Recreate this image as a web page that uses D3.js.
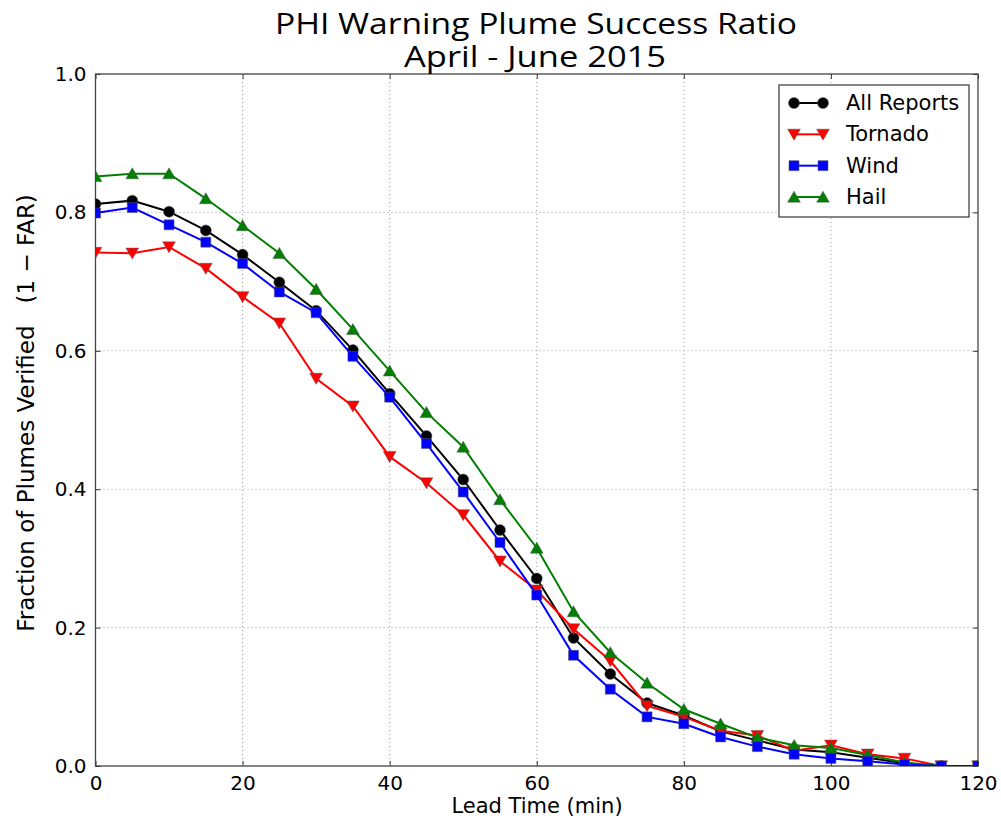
<!DOCTYPE html>
<html>
<head>
<meta charset="utf-8">
<script src="https://d3js.org/d3.v7.min.js"></script>
<style>
  body { margin: 0; background: #fff; }
  text { font-family: "DejaVu Sans", sans-serif; fill: #000; }
</style>
</head>
<body>
<div id="viz"></div>
<script>
// lead time (min)
var leadTime = [0, 5, 10, 15, 20, 25, 30, 35, 40, 45, 50, 55, 60, 65, 70, 75, 80, 85, 90, 95, 100, 105, 110, 115, 120];

var allReports = [0.812, 0.817, 0.801, 0.774, 0.739, 0.699, 0.658, 0.601, 0.538, 0.477, 0.414, 0.341, 0.271, 0.185, 0.133, 0.091, 0.073, 0.050, 0.037, 0.024, 0.020, 0.012, 0.004, 0, 0];
var tornado    = [0.742, 0.741, 0.750, 0.719, 0.678, 0.640, 0.560, 0.520, 0.447, 0.409, 0.363, 0.296, 0.254, 0.198, 0.152, 0.087, 0.071, 0.051, 0.044, 0.022, 0.030, 0.017, 0.011, 0, 0];
var wind       = [0.799, 0.807, 0.782, 0.757, 0.726, 0.685, 0.655, 0.592, 0.533, 0.466, 0.396, 0.323, 0.247, 0.160, 0.111, 0.071, 0.061, 0.042, 0.028, 0.017, 0.011, 0.007, 0.002, 0, 0];
var hail       = [0.852, 0.856, 0.856, 0.820, 0.781, 0.741, 0.689, 0.631, 0.571, 0.511, 0.461, 0.385, 0.315, 0.223, 0.164, 0.120, 0.082, 0.061, 0.041, 0.030, 0.026, 0.016, 0.005, 0, 0];

var xTicks = [0, 20, 40, 60, 80, 100, 120];
var yTicks = [0.0, 0.2, 0.4, 0.6, 0.8, 1.0];

var fw = 1001, fh = 825;
var pLeft = 95.5, pRight = 978, pTop = 74, pBottom = 766;

var svg = d3.select("#viz").append("svg")
    .attr("width", fw)
    .attr("height", fh);

var x = d3.scaleLinear().domain([0, 120]).range([pLeft, pRight]);
var y = d3.scaleLinear().domain([0, 1]).range([pBottom, pTop]);

svg.append("clipPath").attr("id", "plot")
  .append("rect")
    .attr("x", pLeft).attr("y", pTop)
    .attr("width", pRight - pLeft).attr("height", pBottom - pTop);

// grid
var grid = svg.append("g");
grid.selectAll(".gx").data(xTicks.slice(1, -1)).enter().append("line")
    .attr("x1", function(d) { return x(d); }).attr("x2", function(d) { return x(d); })
    .attr("y1", pTop).attr("y2", pBottom)
    .style("stroke", "#999").style("stroke-dasharray", "1,3");
grid.selectAll(".gy").data(yTicks.slice(1, -1)).enter().append("line")
    .attr("y1", function(d) { return y(d); }).attr("y2", function(d) { return y(d); })
    .attr("x1", pLeft).attr("x2", pRight)
    .style("stroke", "#999").style("stroke-dasharray", "1,3");

// axes (ticks inside)
var xAxis = svg.append("g").attr("transform", "translate(0," + pBottom + ")")
    .call(d3.axisBottom(x).tickValues(xTicks).tickFormat(d3.format("d")).tickSizeInner(-5).tickSizeOuter(0).tickPadding(10));
var xTop = svg.append("g").attr("transform", "translate(0," + pTop + ")")
    .call(d3.axisTop(x).tickValues(xTicks).tickFormat("").tickSizeInner(-5).tickSizeOuter(0));
var yAxis = svg.append("g").attr("transform", "translate(" + pLeft + ",0)")
    .call(d3.axisLeft(y).tickValues(yTicks).tickFormat(d3.format(".1f")).tickSizeInner(-5).tickSizeOuter(0).tickPadding(9));
var yRight = svg.append("g").attr("transform", "translate(" + pRight + ",0)")
    .call(d3.axisRight(y).tickValues(yTicks).tickFormat("").tickSizeInner(-5).tickSizeOuter(0));

[xAxis, xTop, yAxis, yRight].forEach(function(a) {
  a.select(".domain").remove();
  a.selectAll("line").style("stroke", "#333");
  a.selectAll("text").style("font-family", "DejaVu Sans").style("font-size", "20px").style("fill", "#000");
});

svg.append("rect")
    .attr("x", pLeft).attr("y", pTop)
    .attr("width", pRight - pLeft).attr("height", pBottom - pTop)
    .style("fill", "none").style("stroke", "#444").style("stroke-width", 1.3);

// series
var series = [
  { name: "All Reports", values: allReports, color: "black", shape: d3.symbolCircle, size: 95, rot: 0 },
  { name: "Tornado", values: tornado, color: "#ff0000", shape: d3.symbolTriangle, size: 70, rot: 180 },
  { name: "Hail", values: hail, color: "#008000", shape: d3.symbolTriangle, size: 70, rot: 0 },
  { name: "Wind", values: wind, color: "#0000ff", shape: d3.symbolSquare, size: 100, rot: 0 }
];

var line = d3.line()
    .x(function(d) { return x(d[0]); })
    .y(function(d) { return y(d[1]); });

var plot = svg.append("g").attr("clip-path", "url(#plot)");

function markTransform(s, px, py) {
  return "translate(" + px + "," + py + ")rotate(" + s.rot + ")" + (s.shape === d3.symbolTriangle ? "translate(0,1.5)" : "");
}

series.forEach(function(s) {
  var pts = leadTime.map(function(t, i) { return [t, s.values[i]]; });
  var g = plot.append("g");
  g.append("path")
      .attr("d", line(pts))
      .style("fill", "none")
      .style("stroke", s.color)
      .style("stroke-width", 2);
  g.selectAll("path.m").data(pts).enter().append("path")
      .attr("class", "m")
      .attr("d", d3.symbol().type(s.shape).size(s.size))
      .attr("transform", function(d) { return markTransform(s, x(d[0]), y(d[1])); })
      .style("fill", s.color)
      .style("stroke", "#555")
      .style("stroke-width", 0.5);
});

// legend
var legendOrder = [series[0], series[1], series[3], series[2]];
var lg = svg.append("g");
lg.append("rect")
    .attr("x", 779).attr("y", 85)
    .attr("width", 190).attr("height", 132)
    .style("fill", "#fff").style("stroke", "#444").style("stroke-width", 1.3);

var ly = d3.scalePoint().domain(legendOrder.map(function(s) { return s.name; })).range([103, 197]);

legendOrder.forEach(function(s) {
  var yy = ly(s.name);
  lg.append("line")
      .attr("x1", 794).attr("x2", 823)
      .attr("y1", yy).attr("y2", yy)
      .style("stroke", s.color).style("stroke-width", 2);
  [794, 823].forEach(function(mx) {
    lg.append("path")
        .attr("d", d3.symbol().type(s.shape).size(s.size))
        .attr("transform", markTransform(s, mx, yy))
        .style("fill", s.color).style("stroke", "#555").style("stroke-width", 0.5);
  });
  lg.append("text")
      .attr("x", 846).attr("y", yy + 7)
      .style("font-size", "21px")
      .text(s.name);
});

// titles
svg.append("text")
    .attr("x", 536).attr("y", 34)
    .attr("text-anchor", "middle")
    .attr("textLength", 522).attr("lengthAdjust", "spacingAndGlyphs")
    .style("font-family", "Open Sans").style("font-size", "30px")
    .text("PHI Warning Plume Success Ratio");
svg.append("text")
    .attr("x", 535).attr("y", 67)
    .attr("text-anchor", "middle")
    .attr("textLength", 262).attr("lengthAdjust", "spacingAndGlyphs")
    .style("font-family", "Open Sans").style("font-size", "30px")
    .text("April - June 2015");

svg.append("text")
    .attr("x", 537).attr("y", 813)
    .attr("text-anchor", "middle")
    .style("font-size", "21px")
    .text("Lead Time (min)");

svg.append("text")
    .attr("transform", "translate(34,413)rotate(-90)")
    .attr("text-anchor", "middle")
    .style("font-size", "23px")
    .attr("xml:space", "preserve")
    .text("Fraction of Plumes Verified   (1 \u2212 FAR)");
</script>
</body>
</html>
